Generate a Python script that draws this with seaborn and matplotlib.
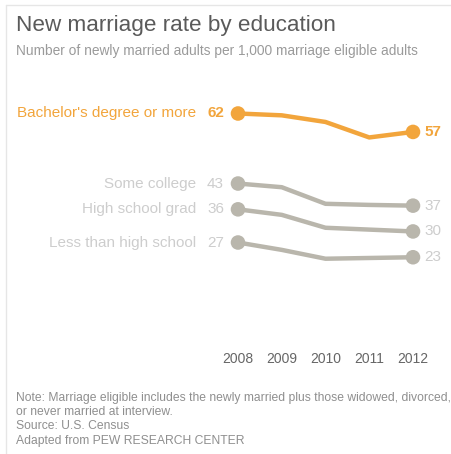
import matplotlib
matplotlib.use("Agg")
import matplotlib.pyplot as plt
import seaborn as sns
import pandas as pd
from matplotlib.lines import Line2D

sns.set_theme(style="white")
plt.rcParams["font.family"] = ["Liberation Sans", "DejaVu Sans"]

years = [2008, 2009, 2010, 2011, 2012]
groups = ["Bachelor's degree or more", "Some college", "High school grad", "Less than high school"]
bachelor = [62, 61.5, 59.7, 55.5, 57]
some_college = [43, 42, 37.5, 37.2, 37]
hs_grad = [36, 34.5, 31, 30.5, 30]
less_hs = [27, 25, 22.6, 22.8, 23]
series = [bachelor, some_college, hs_grad, less_hs]

ORANGE = "#F2A53C"
LINE_GRAY = "#B9B6AC"
LABEL_GRAY = "#CDCDCD"

rows = []
for g, vals in zip(groups, series):
    for y, v in zip(years, vals):
        rows.append({"group": g, "year": y, "rate": v})
df = pd.DataFrame(rows)
palette = {g: (ORANGE if i == 0 else LINE_GRAY) for i, g in enumerate(groups)}

W, H = 451, 454
fig = plt.figure(figsize=(W / 100, H / 100), dpi=100)
fig.patch.set_facecolor("white")

# axes placed in pixel terms: x 220..430, y 100..340
ax = fig.add_axes([220 / W, 1 - 340 / H, 210 / W, 240 / H])
sns.lineplot(data=df, x="year", y="rate", hue="group", palette=palette,
             linewidth=3.2, legend=False, ax=ax, hue_order=groups[::-1])

ends = df[df["year"].isin([years[0], years[-1]])]
sns.scatterplot(data=ends, x="year", y="rate", hue="group", palette=palette,
                s=110, edgecolor="none", legend=False, ax=ax, hue_order=groups[::-1])

px_per_year = 43.75
ax.set_xlim(years[0] - 18 / px_per_year, years[-1] + 17 / px_per_year)
ax.set_ylim(0.55, 65.66)
ax.set_xticks(years)
ax.set_xticklabels([str(y) for y in years], fontsize=10, color="#666666")
ax.set_yticks([])
ax.tick_params(axis="x", length=0, pad=8.4)
ax.set_xlabel("")
ax.set_ylabel("")
for s in ax.spines.values():
    s.set_visible(False)
ax.patch.set_alpha(0)

# labels on the left and right of each series
for i, (g, vals) in enumerate(zip(groups, series)):
    is_main = i == 0
    col = ORANGE if is_main else LABEL_GRAY
    weight = "bold" if is_main else "normal"
    ax.annotate(f"{vals[0]:g}", xy=(years[0], vals[0]), xytext=(-10, 0),
                textcoords="offset points", ha="right", va="center",
                fontsize=11, color=col, fontweight=weight)
    ax.annotate(g, xy=(years[0], vals[0]), xytext=(-30, 0),
                textcoords="offset points", ha="right", va="center",
                fontsize=11, color=col)
    ax.annotate(f"{vals[-1]:g}", xy=(years[-1], vals[-1]), xytext=(8, 0),
                textcoords="offset points", ha="left", va="center",
                fontsize=11, color=col, fontweight=weight)

fig.text(16 / W, 1 - 26 / H, "New marriage rate by education", fontsize=16.2,
         color="#5a5a5a", ha="left", va="center")
fig.text(16 / W, 1 - 51 / H, "Number of newly married adults per 1,000 marriage eligible adults",
         fontsize=9.9, color="#9a9a9a", ha="left", va="center")

note_col = "#8f8f8f"
fs_note = 8.7
fig.text(16 / W, 1 - 398 / H,
         "Note: Marriage eligible includes the newly married plus those widowed, divorced,",
         fontsize=fs_note, color=note_col, ha="left", va="center")
fig.text(16 / W, 1 - 412 / H, "or never married at interview.",
         fontsize=fs_note, color=note_col, ha="left", va="center")
fig.text(16 / W, 1 - 426 / H, "Source: U.S. Census",
         fontsize=fs_note, color=note_col, ha="left", va="center")
fig.text(16 / W, 1 - 441 / H, "Adapted from PEW RESEARCH CENTER",
         fontsize=fs_note, color=note_col, ha="left", va="center")

# thin frame on top and left
fig.add_artist(Line2D([6 / W, 6 / W], [0, 1 - 5 / H], color="#e6e6e6", linewidth=1))
fig.add_artist(Line2D([6 / W, 1], [1 - 5 / H, 1 - 5 / H], color="#e6e6e6", linewidth=1))

fig.savefig("out.png", dpi=100, facecolor="white")
